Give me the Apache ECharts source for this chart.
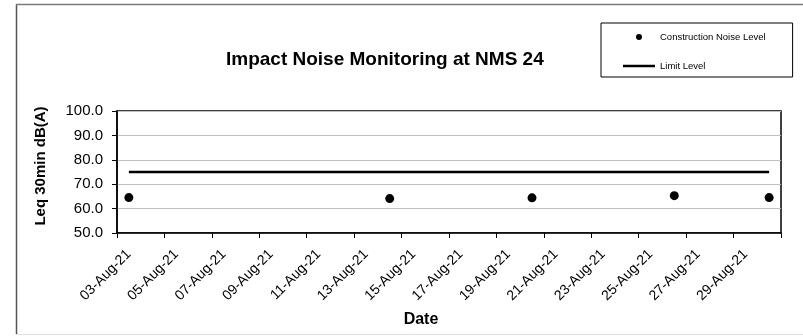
<!DOCTYPE html>
<html>
<head>
<meta charset="utf-8">
<title>Impact Noise Monitoring at NMS 24</title>
<script src="https://cdn.jsdelivr.net/npm/echarts@6/dist/echarts.min.js"></script>
<style>
  html, body { margin: 0; padding: 0; background: #fff; }
  #chart { width: 803px; height: 336px; }
</style>
</head>
<body>
<div id="chart"></div>
<script>
// Daily date categories on the x axis (one band per day)
const dateLabels = [
  '03-Aug-21', '04-Aug-21', '05-Aug-21', '06-Aug-21', '07-Aug-21', '08-Aug-21', '09-Aug-21',
  '10-Aug-21', '11-Aug-21', '12-Aug-21', '13-Aug-21', '14-Aug-21', '15-Aug-21', '16-Aug-21',
  '17-Aug-21', '18-Aug-21', '19-Aug-21', '20-Aug-21', '21-Aug-21', '22-Aug-21', '23-Aug-21',
  '24-Aug-21', '25-Aug-21', '26-Aug-21', '27-Aug-21', '28-Aug-21', '29-Aug-21', '30-Aug-21'
];

// Measured construction noise, Leq 30min dB(A)
const noiseDates = ['03-Aug-21', '14-Aug-21', '20-Aug-21', '26-Aug-21', '30-Aug-21'];
const noiseLevels = [64.5, 64.1, 64.4, 65.3, 64.5];

// Criterion level
const limitLevel = 75;

// Y axis scale
const yMin = 50;
const yMax = 100;
const yStep = 10;

const FONT = '"Liberation Sans", Arial, sans-serif';

const noiseData = noiseDates.map((d, i) => [d, noiseLevels[i]]);
const limitData = dateLabels.map(() => limitLevel);

const chart = echarts.init(document.getElementById('chart'), null, { renderer: 'canvas' });

chart.setOption({
  animation: false,
  backgroundColor: '#fff',
  textStyle: { fontFamily: FONT, color: '#000' },
  title: {
    text: 'Impact Noise Monitoring at NMS 24',
    left: 226,
    top: 50,
    padding: 0,
    textStyle: { fontFamily: FONT, fontSize: 19, fontWeight: 'bold', color: '#000' }
  },
  legend: {
    orient: 'vertical',
    left: 601,
    top: 23,
    padding: [9, 27, 6, 22],
    borderColor: '#000',
    borderWidth: 1,
    itemWidth: 32,
    itemHeight: 6,
    itemGap: 19,
    textStyle: { fontFamily: FONT, fontSize: 9.5, color: '#000' },
    data: [
      { name: 'Construction Noise Level', icon: 'circle' },
      // plain solid stroke for the limit line key
      { name: 'Limit Level', icon: 'path://M0,0H32V2.5H0Z' }
    ]
  },
  grid: {
    left: 117,
    right: 22,
    top: 111,
    bottom: 103,
    show: true,
    borderColor: '#000',
    borderWidth: 1.5,
    backgroundColor: '#fff'
  },
  xAxis: {
    type: 'category',
    data: dateLabels,
    boundaryGap: true,
    name: 'Date',
    nameLocation: 'middle',
    nameGap: 79,
    nameTextStyle: {
      fontFamily: FONT, fontSize: 16, fontWeight: 'bold', color: '#000',
      padding: [0, 56, 0, 0]
    },
    axisLine: { show: true, lineStyle: { color: '#000', width: 1.5 } },
    axisTick: { show: true, interval: 1, length: 5, lineStyle: { color: '#000', width: 1 } },
    axisLabel: {
      interval: 1,
      rotate: 45,
      margin: 19,
      fontFamily: FONT,
      fontSize: 14,
      color: '#000'
    },
    splitLine: { show: false }
  },
  yAxis: {
    type: 'value',
    min: yMin,
    max: yMax,
    interval: yStep,
    name: 'Leq 30min dB(A)',
    nameLocation: 'middle',
    nameGap: 69,
    nameTextStyle: {
      fontFamily: FONT, fontSize: 15, fontWeight: 'bold', color: '#000',
      padding: [0, 0, 0, 12]
    },
    axisLine: { show: true, lineStyle: { color: '#000', width: 1.5 } },
    axisTick: { show: true, length: 5, lineStyle: { color: '#000', width: 1 } },
    axisLabel: {
      margin: 14,
      fontFamily: FONT,
      fontSize: 15,
      color: '#000',
      formatter: (v) => v.toFixed(1)
    },
    splitLine: { show: true, lineStyle: { color: '#c0c0c0', width: 1 } }
  },
  series: [
    {
      name: 'Construction Noise Level',
      type: 'scatter',
      data: noiseData,
      symbol: 'circle',
      symbolSize: 9,
      itemStyle: { color: '#000', opacity: 1 },
      z: 3
    },
    {
      name: 'Limit Level',
      type: 'line',
      data: limitData,
      showSymbol: false,
      symbol: 'none',
      lineStyle: { color: '#000', width: 2.5 },
      itemStyle: { color: '#000' },
      z: 2
    }
  ],
  graphic: [
    // chart-area frame: dark left and top edges, pale bottom edge
    { type: 'line', shape: { x1: 16.5, y1: 4.5, x2: 16.5, y2: 334 }, style: { stroke: '#555', lineWidth: 1.5 }, silent: true },
    { type: 'line', shape: { x1: 16, y1: 4.5, x2: 803, y2: 4.5 }, style: { stroke: '#7a7a7a', lineWidth: 1.5 }, silent: true },
    { type: 'line', shape: { x1: 16, y1: 334.5, x2: 803, y2: 334.5 }, style: { stroke: '#e0e0e0', lineWidth: 1 }, silent: true }
  ]
});
</script>
</body>
</html>
